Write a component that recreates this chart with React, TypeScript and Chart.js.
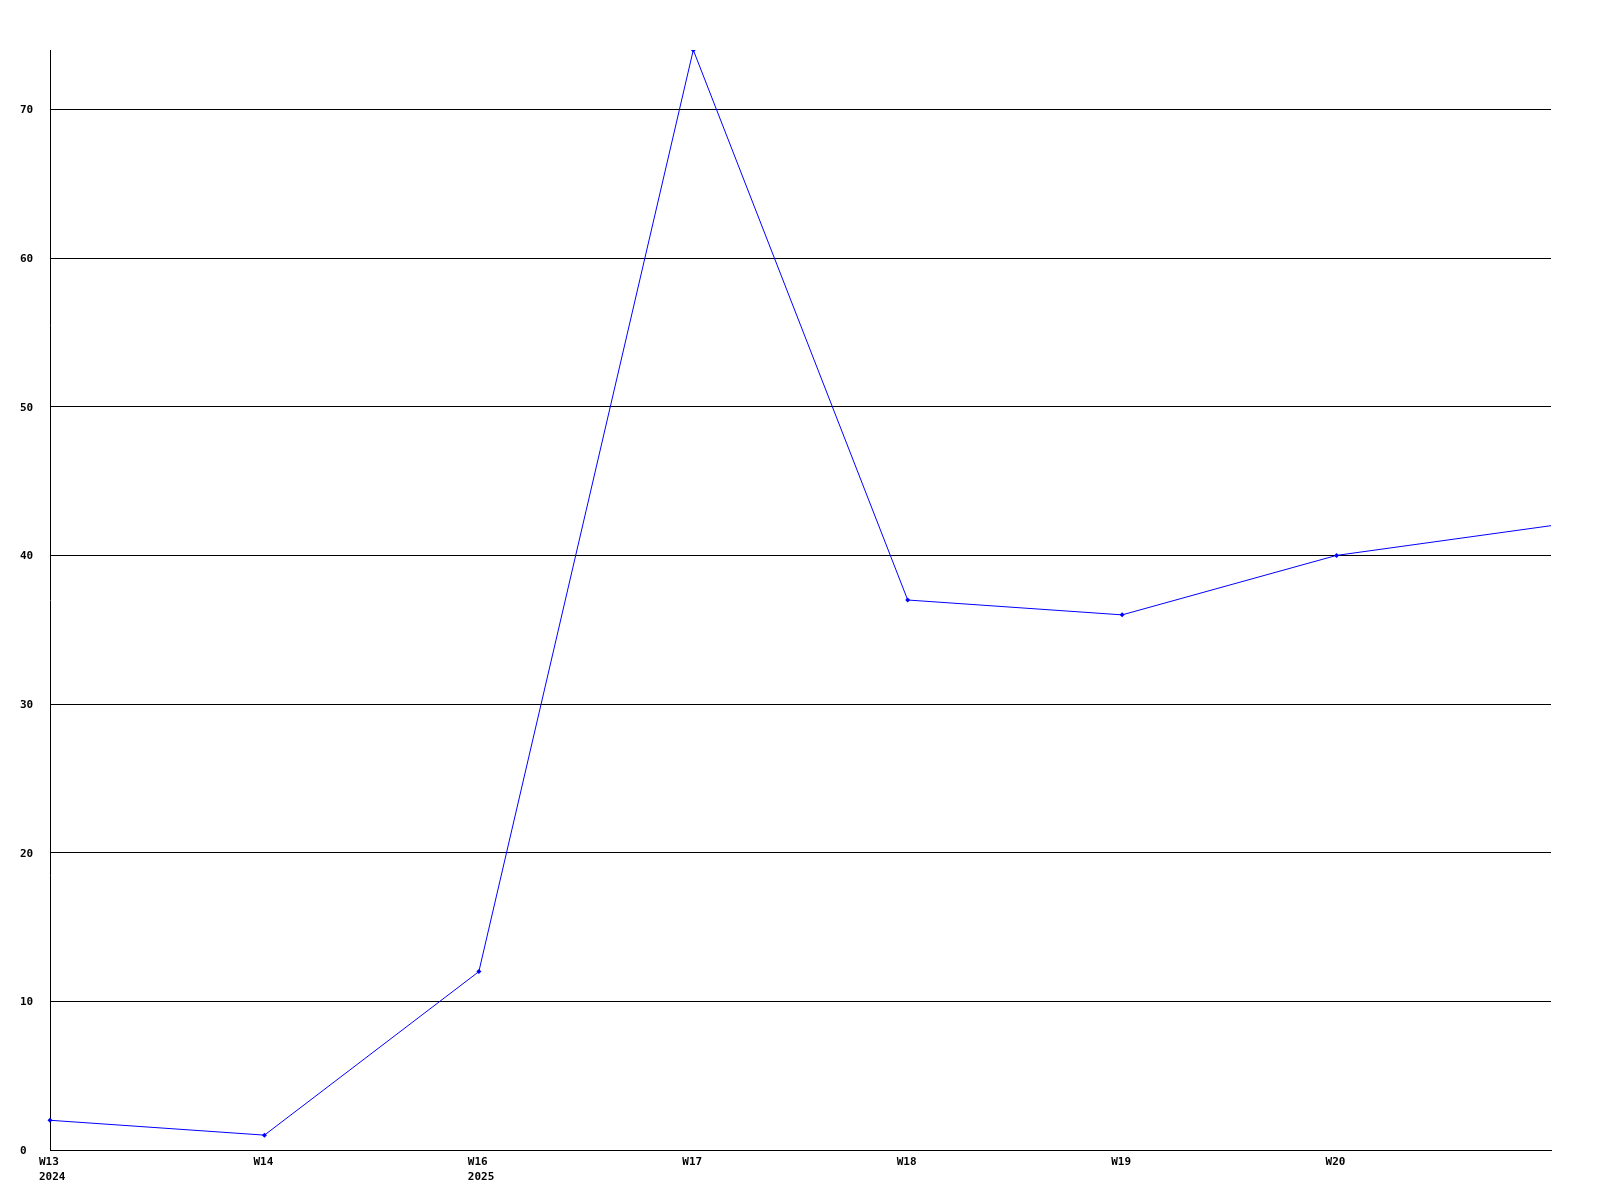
import React, { useEffect, useRef } from "react";
import { Chart, registerables } from "chart.js";

Chart.register(...registerables);

const weekLabels = ["W13", "W14", "W16", "W17", "W18", "W19", "W20", ""];
const yearLabels = ["2024", "", "2025", "", "", "", "", ""];
const values = [2, 1, 12, 74, 37, 36, 40, 42];
const pointRadii = [2.5, 2.5, 2.5, 2.5, 2.5, 2.5, 2.5, 0];

export default function App() {
  const ref = useRef<HTMLCanvasElement | null>(null);

  useEffect(() => {
    if (!ref.current) return;
    const labels = weekLabels.map((w, i) => (yearLabels[i] ? [w, yearLabels[i]] : w));
    const font = { family: "'DejaVu Sans Mono', monospace", size: 11, weight: "bold" as const, lineHeight: 1.4 };
    const chart = new Chart(ref.current, {
      type: "line",
      data: {
        labels,
        datasets: [
          {
            data: values,
            borderColor: "#0000ff",
            backgroundColor: "#0000ff",
            borderWidth: 1,
            pointRadius: pointRadii,
            pointStyle: "rectRot",
            pointBorderWidth: 0,
            tension: 0,
            fill: false,
          },
        ],
      },
      options: {
        animation: false,
        responsive: false,
        maintainAspectRatio: false,
        layout: { padding: { left: 20, top: 50, right: 49, bottom: 0 } },
        plugins: { legend: { display: false }, tooltip: { enabled: false } },
        scales: {
          x: {
            type: "category",
            offset: false,
            grid: { display: false, drawTicks: false },
            border: { display: true, color: "#000000", width: 1 },
            ticks: {
              autoSkip: false,
              maxRotation: 0,
              minRotation: 0,
              align: "start",
              labelOffset: -11,
              padding: 4,
              color: "#000000",
              font,
            },
            afterFit: (s: any) => {
              s.height = 50;
            },
          },
          y: {
            min: 0,
            max: 74,
            grid: { color: "#000000", lineWidth: 1, drawTicks: false },
            border: { display: true, color: "#000000", width: 1 },
            ticks: {
              stepSize: 10,
              includeBounds: false,
              crossAlign: "far",
              padding: 17,
              labelOffset: 1,
              color: "#000000",
              font,
            },
            afterFit: (s: any) => {
              s.width = 30;
            },
          },
        },
      },
    });
    return () => chart.destroy();
  }, []);

  return (
    <div style={{ position: "fixed", left: 0, top: 0, width: 1600, height: 1200, background: "#ffffff" }}>
      <canvas ref={ref} width={1600} height={1200} style={{ width: 1600, height: 1200, display: "block" }} />
    </div>
  );
}
